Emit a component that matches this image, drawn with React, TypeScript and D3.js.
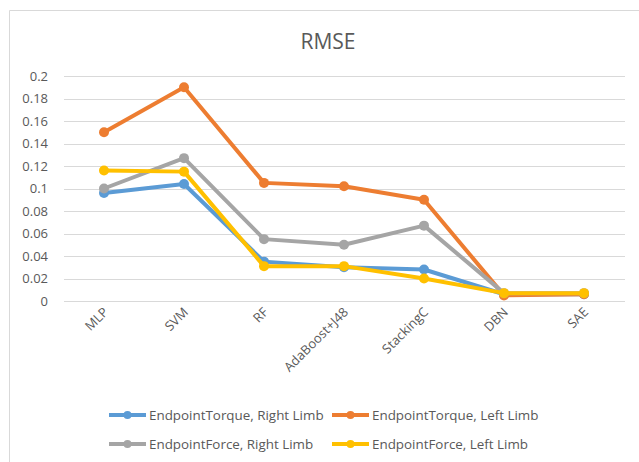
import React from "react";
import * as d3 from "d3";

const categories = ["MLP", "SVM", "RF", "AdaBoost+J48", "StackingC", "DBN", "SAE"];
const torqueRight = [0.096, 0.104, 0.035, 0.030, 0.028, 0.006, 0.006];
const torqueLeft = [0.150, 0.190, 0.105, 0.102, 0.090, 0.005, 0.006];
const forceRight = [0.100, 0.127, 0.055, 0.050, 0.067, 0.007, 0.007];
const forceLeft = [0.116, 0.115, 0.031, 0.031, 0.020, 0.007, 0.007];
const yTicks = [0, 0.02, 0.04, 0.06, 0.08, 0.1, 0.12, 0.14, 0.16, 0.18, 0.2];

const series = [
  { name: "EndpointTorque, Right Limb", color: "#5b9bd5", values: torqueRight },
  { name: "EndpointTorque, Left Limb", color: "#ed7d31", values: torqueLeft },
  { name: "EndpointForce, Right Limb", color: "#a5a5a5", values: forceRight },
  { name: "EndpointForce, Left Limb", color: "#ffc000", values: forceLeft },
];

const W = 639;
const H = 462;
const FONT = "'Open Sans', sans-serif";
const TEXT = "#595959";

export default function App() {
  const x = d3.scaleBand<string>().domain(categories).range([64, 624]);
  const y = d3.scaleLinear().domain([0, 0.2]).range([301, 76]);
  const cx = (c: string) => (x(c) ?? 0) + x.bandwidth() / 2;
  const line = d3
    .line<number>()
    .x((_, i) => cx(categories[i]))
    .y((d) => y(d));

  // legend: two rows, two columns
  const legendPos = [
    { lx: 109, ly: 415 },
    { lx: 332, ly: 415 },
    { lx: 109, ly: 444 },
    { lx: 332, ly: 444 },
  ];

  return (
    <svg
      width={W}
      height={H}
      style={{ position: "absolute", left: 0, top: 0, background: "#fff" }}
    >
      <rect x={0} y={0} width={W} height={H} fill="#fff" />
      {/* chart frame */}
      <line x1={9.5} y1={10.5} x2={W} y2={10.5} stroke="#d9d9d9" />
      <line x1={9.5} y1={10.5} x2={9.5} y2={H} stroke="#d9d9d9" />

      <text
        x={328}
        y={49}
        textAnchor="middle"
        fontFamily={FONT}
        fontSize={21}
        fill={TEXT}
      >
        RMSE
      </text>

      {yTicks.map((t) => (
        <g key={t}>
          <line
            x1={64}
            x2={625}
            y1={Math.round(y(t)) + 0.5}
            y2={Math.round(y(t)) + 0.5}
            stroke="#d9d9d9"
            strokeWidth={1}
          />
          <text
            x={48}
            y={y(t) + 4.5}
            textAnchor="end"
            fontFamily={FONT}
            fontSize={13}
            fill={TEXT}
          >
            {d3.format("~g")(t)}
          </text>
        </g>
      ))}

      {categories.map((c) => (
        <text
          key={c}
          transform={`translate(${cx(c) + 5},${313}) rotate(-45)`}
          textAnchor="end"
          fontFamily={FONT}
          fontSize={13}
          fill={TEXT}
        >
          {c}
        </text>
      ))}

      {series.map((s) => (
        <g key={s.name}>
          <path
            d={line(s.values) ?? ""}
            fill="none"
            stroke={s.color}
            strokeWidth={4}
            strokeLinejoin="round"
            strokeLinecap="round"
          />
          {s.values.map((v, i) => (
            <circle key={i} cx={cx(categories[i])} cy={y(v)} r={5} fill={s.color} />
          ))}
        </g>
      ))}

      {series.map((s, i) => {
        const { lx, ly } = legendPos[i];
        return (
          <g key={s.name}>
            <line x1={lx} x2={lx + 37} y1={ly} y2={ly} stroke={s.color} strokeWidth={4} />
            <circle cx={lx + 18.5} cy={ly} r={4} fill={s.color} />
            <text
              x={lx + 40}
              y={ly + 4.5}
              fontFamily={FONT}
              fontSize={13.4}
              fill={TEXT}
            >
              {s.name}
            </text>
          </g>
        );
      })}
    </svg>
  );
}
